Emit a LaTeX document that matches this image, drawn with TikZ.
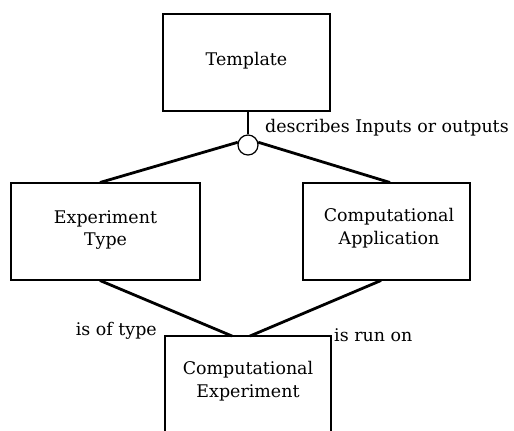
\documentclass[tikz,border=0pt]{standalone}
\usepackage{fontspec}
\setmainfont{DejaVu Serif}
\begin{document}
\begin{tikzpicture}[x=1bp,y=-1bp,
  entity/.style={draw=black,line width=2bp,rectangle,inner sep=0pt,align=center,font=\fontsize{17.5}{23}\selectfont},
  link/.style={draw=black,line width=2.8bp},
  role/.style={font=\fontsize{17.5}{23}\selectfont,inner sep=0pt}]
\useasboundingbox (0,0) rectangle (514,430);
\clip (0,0) rectangle (514,430);
% entities
\node[entity,minimum width=167bp,minimum height=97bp] (tpl) at (246.5,62.5) {};
\node[role] (tpltxt) at (246.5,61) {Template};
\node[entity,minimum width=189bp,minimum height=97bp] (etype) at (105.5,231.5) {};
\node[role,align=center] (etypetxt) at (105.5,230) {Experiment\\Type};
\node[entity,minimum width=167bp,minimum height=97bp] (capp) at (386.5,231.5) {};
\node[role,align=center] (capptxt) at (389,228) {Computational\\Application};
\node[entity,minimum width=166bp,minimum height=110bp] (cexp) at (248,391) {};
\node[role,align=center] (cexptxt) at (248,381) {Computational\\Experiment};
% relationship junction
\node[draw=black,line width=1.2bp,circle,minimum size=20bp,inner sep=0pt] (jn) at (248,145) {};
\coordinate (etop) at (100,182.5);
\coordinate (atop) at (390,182.5);
\coordinate (ebot) at (100,280.5);
\coordinate (abot) at (381,280.5);
\coordinate (cl) at (232,336);
\coordinate (cr) at (250,336);
\draw[link] (tpl.south -| jn.north) -- (jn.north);
\draw[link] (jn.165) -- (etop);
\draw[link] (jn.15) -- (atop);
\draw[link] (ebot) -- (cl);
\draw[link] (abot) -- (cr);
% labels
\node[role,anchor=west] (lbldesc) at (265,128) {describes Inputs or outputs};
\node[role,anchor=east] (lbltype) at (157,331) {is of type};
\node[role,anchor=west] (lblrun) at (334,335) {is run on};
\end{tikzpicture}
\end{document}
